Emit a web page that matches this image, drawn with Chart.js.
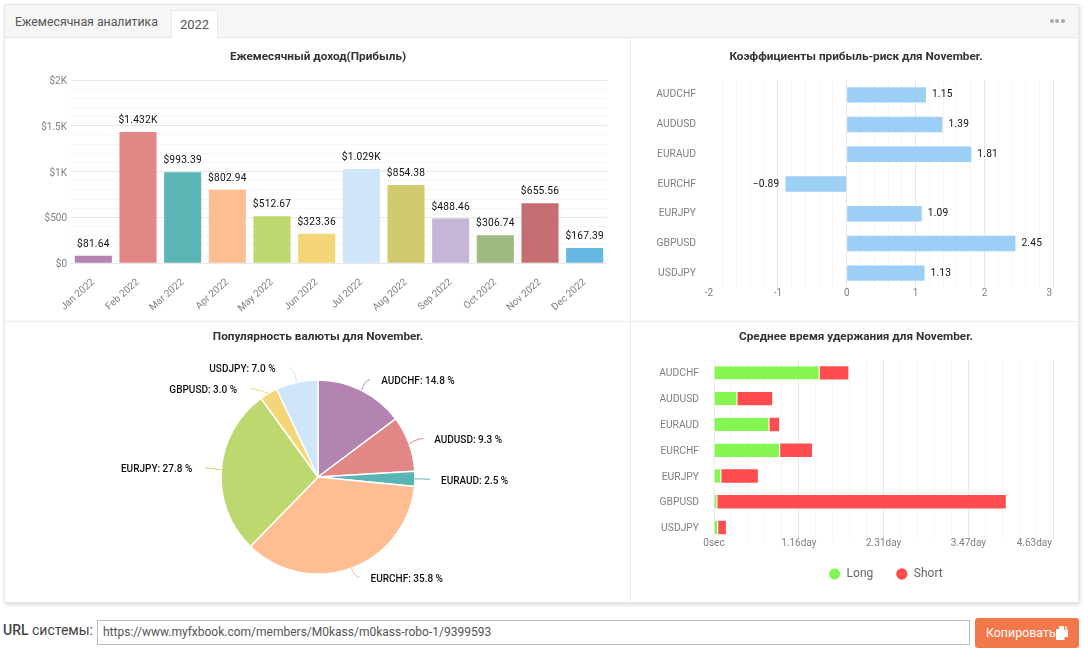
<!DOCTYPE html>
<html lang="ru">
<head>
<meta charset="utf-8">
<title>Ежемесячная аналитика</title>
<script src="https://cdn.jsdelivr.net/npm/chart.js@4"></script>
<style>
  html, body { margin: 0; padding: 0; background: #fff; width: 1088px; height: 658px; overflow: hidden; font-family: Roboto, sans-serif; }
  .panel { position: absolute; left: 4px; top: 4px; width: 1073px; height: 597px; background: #fff; border: 1px solid #e7e7e7; box-shadow: 1px 2px 4px rgba(0,0,0,.14); }
  .head { position: absolute; left: 0; top: 0; width: 1073px; height: 32px; background: #f6f6f6; border-bottom: 1px solid #e7e7e7; }
  .head .name { position: absolute; left: 10px; top: 10px; font-size: 12.3px; color: #555; }
  .head .tab { position: absolute; left: 166px; top: 5px; width: 47px; height: 28px; background: #fff; border: 1px solid #e9e9e9; border-bottom: 0; box-sizing: border-box; text-align: center; font-size: 13px; line-height: 27px; color: #555; }
  .head .dots { position: absolute; left: 1045px; top: 13px; width: 16px; height: 6px; }
  .head .dots i { float: left; width: 4px; height: 4px; margin: 1px 1.3px 0 0; border-radius: 50%; background: #aaa; }
  .vline { position: absolute; left: 630px; top: 37px; width: 1px; height: 564px; background: #ececec; }
  .hline { position: absolute; left: 5px; top: 321px; width: 1072px; height: 1px; background: #ececec; }
  canvas { position: absolute; }
  .url-label { position: absolute; left: 3px; top: 622px; font-size: 14px; color: #444; }
  .url-label b { font-weight: 500; }
  .url-box { position: absolute; left: 97px; top: 620px; width: 873px; height: 25px; box-sizing: border-box; border: 1px solid #bbb; padding: 0 5px; font-size: 12px; line-height: 23px; color: #555; }
  .copy { position: absolute; left: 975px; top: 618px; width: 104px; height: 30px; background: #f2784b; border-radius: 3px; color: #fff; font-size: 12.4px; line-height: 30px; padding-left: 11px; box-sizing: border-box; }
  .copy svg { position: absolute; left: 81px; top: 8px; }
</style>
</head>
<body>
<div class="panel">
  <div class="head">
    <div class="name">Ежемесячная аналитика</div>
    <div class="tab">2022</div>
    <div class="dots"><i></i><i></i><i></i></div>
  </div>
</div>
<div class="vline"></div>
<div class="hline"></div>
<canvas id="incomeChart" style="left:4px;top:37px" width="628" height="284"></canvas>
<canvas id="ratioChart" style="left:631px;top:37px" width="450" height="284"></canvas>
<canvas id="shareChart" style="left:4px;top:322px" width="628" height="280"></canvas>
<canvas id="holdChart" style="left:631px;top:322px" width="450" height="280"></canvas>
<div class="url-label"><b>URL</b> системы:</div>
<div class="url-box">https://www.myfxbook.com/members/M0kass/m0kass-robo-1/9399593</div>
<div class="copy">Копировать
  <svg width="12" height="14" viewBox="0 0 12 14"><path fill="#fff" d="M3 0h5v3.5h4V11H8.5v3H0V3h3zM9 0l3 2.6H9z"/></svg>
</div>

<script>
const months = ["Jan 2022", "Feb 2022", "Mar 2022", "Apr 2022", "May 2022", "Jun 2022", "Jul 2022", "Aug 2022", "Sep 2022", "Oct 2022", "Nov 2022", "Dec 2022"];
const monthlyIncome = [81.64, 1432, 993.39, 802.94, 512.67, 323.36, 1029, 854.38, 488.46, 306.74, 655.56, 167.39];
const monthColors = ["#b384b2", "#e28686", "#5cb5b5", "#ffbe92", "#bdd86e", "#f4d577", "#cfe6fa", "#d0cb6e", "#c5b5d8", "#9fb983", "#c66f72", "#66b8e2"];

const pairs = ["AUDCHF", "AUDUSD", "EURAUD", "EURCHF", "EURJPY", "GBPUSD", "USDJPY"];
const profitRisk = [1.15, 1.39, 1.81, -0.89, 1.09, 2.45, 1.13];
const pairShare = [14.8, 9.3, 2.5, 35.8, 27.8, 3.0, 7.0];
// average holding time, seconds
const holdLong = [124500, 27600, 65400, 78000, 8700, 4000, 5000];
const holdShort = [33900, 41000, 11400, 37500, 43000, 340000, 9000];

const titleFont = { family: "Roboto", size: 11.75, weight: "bold" };
const tickFont = { family: "Roboto", size: 10 };
const catFont = { family: "Roboto", size: 10.3 };
const tickColor = "#808080";
const gridMajor = "#e8e8e8";
const gridMinor = "#f6f6f6";

Chart.defaults.animation = false;
Chart.defaults.responsive = false;
Chart.defaults.plugins.legend.display = false;
Chart.defaults.plugins.tooltip.enabled = false;

function chartTitle(text, top, bottom) {
  return { display: true, text: text, color: "#333", font: titleFont, padding: { top: top, bottom: bottom } };
}

function isMultiple(value, step) {
  return Math.abs(value / step - Math.round(value / step)) < 1e-6;
}

function formatMoney(value) {
  if (value >= 1000) return "$" + value / 1000 + "K";
  return "$" + value;
}

// titles stay centred on the whole canvas, whatever padding the plot has
const centerTitle = {
  id: "centerTitle",
  afterLayout(chart) {
    const block = chart.titleBlock;
    block.left = 0;
    block.right = chart.width;
    block.width = chart.width;
  }
};
Chart.register(centerTitle);

// value text next to each bar of the first dataset
const barValueLabels = {
  id: "barValueLabels",
  afterDatasetsDraw(chart, args, opts) {
    const ctx = chart.ctx;
    ctx.save();
    ctx.font = "10.2px Roboto";
    ctx.fillStyle = "#111";
    ctx.letterSpacing = "0.2px";
    ctx.textBaseline = "middle";
    chart.getDatasetMeta(0).data.forEach((bar, i) => {
      const value = chart.data.datasets[0].data[i];
      const text = opts.format(value);
      if (chart.options.indexAxis === "y") {
        ctx.textAlign = value < 0 ? "right" : "left";
        ctx.fillText(text, bar.x + (value < 0 ? -6 : 6), bar.y);
      } else {
        ctx.textAlign = "center";
        ctx.fillText(text, bar.x, bar.y - 11.5);
      }
    });
    ctx.restore();
  }
};

// keeps the last x tick label inside the panel; the scale box is also stretched
// so labels are not clipped when the legend sits right under a short axis
const axisTweaks = {
  id: "axisTweaks",
  beforeDraw(chart, args, opts) {
    const scale = chart.scales.x;
    scale.top -= opts.extraTop || 0;
    scale.bottom += opts.extraBottom || 0;
    const items = scale.getLabelItems();
    const last = items[items.length - 1];
    if (last) last.options.translation[0] -= opts.dx;
    if (opts.legendDx) chart.legend.left += opts.legendDx;
  }
};

// pie callouts: curved connector from the slice edge, then the text
const calloutShift = {
  AUDCHF: [2, 3],
  EURCHF: [3, -5],
  EURJPY: [-1, -1],
  GBPUSD: [-11, 8],
  USDJPY: [-5, 0]
};
const pieCallouts = {
  id: "pieCallouts",
  afterDatasetsDraw(chart) {
    const ctx = chart.ctx;
    ctx.save();
    ctx.font = "500 10px Roboto";
    ctx.textBaseline = "middle";
    chart.getDatasetMeta(0).data.forEach((arc, i) => {
      const name = chart.data.labels[i];
      const mid = (arc.startAngle + arc.endAngle) / 2;
      const shift = calloutShift[name] || [0, 0];
      const sx = arc.x + Math.cos(mid) * arc.outerRadius;
      const sy = arc.y + Math.sin(mid) * arc.outerRadius;
      const ex = arc.x + Math.cos(mid) * (arc.outerRadius + 15) + shift[0];
      const ey = arc.y + Math.sin(mid) * (arc.outerRadius + 15) + shift[1];
      const right = ex > arc.x;
      ctx.beginPath();
      ctx.moveTo(sx, sy);
      ctx.quadraticCurveTo(ex + (right ? -5 : 5), ey, ex, ey);
      ctx.strokeStyle = arc.options.backgroundColor;
      ctx.lineWidth = 1;
      ctx.stroke();
      ctx.fillStyle = "#111";
      ctx.textAlign = right ? "left" : "right";
      const text = name + ": " + chart.data.datasets[0].data[i].toFixed(1) + " %";
      ctx.fillText(text, ex + (right ? 11 : -13), ey + 2);
    });
    ctx.restore();
  }
};

new Chart(document.getElementById("incomeChart"), {
  type: "bar",
  data: {
    labels: months,
    datasets: [{ data: monthlyIncome, backgroundColor: monthColors, barPercentage: 0.83, categoryPercentage: 1 }]
  },
  plugins: [barValueLabels],
  options: {
    layout: { padding: { right: 25 } },
    plugins: {
      title: chartTitle("Ежемесячный доход(Прибыль)", 13, 15.9),
      barValueLabels: { format: formatMoney }
    },
    scales: {
      x: {
        border: { display: false },
        grid: { display: false },
        afterFit(scale) { scale.height = 57.7; },
        ticks: { color: tickColor, font: tickFont, minRotation: 42, maxRotation: 42, padding: 5, autoSkip: false }
      },
      y: {
        min: 0,
        max: 2000,
        border: { display: false },
        afterFit(scale) { scale.width = 67; },
        grid: {
          drawTicks: false,
          color: (c) => (isMultiple(c.tick.value, 500) ? gridMajor : gridMinor)
        },
        ticks: {
          stepSize: 100,
          autoSkip: false,
          color: tickColor,
          font: tickFont,
          padding: 4,
          labelOffset: 1.5,
          callback: (value) => (isMultiple(value, 500) ? formatMoney(value) : "")
        }
      }
    }
  }
});

new Chart(document.getElementById("ratioChart"), {
  type: "bar",
  data: {
    labels: pairs,
    datasets: [{ data: profitRisk, backgroundColor: "#9ccff6", barPercentage: 0.52, categoryPercentage: 1 }]
  },
  plugins: [barValueLabels, axisTweaks],
  options: {
    indexAxis: "y",
    layout: { padding: { right: 27.7 } },
    plugins: {
      title: chartTitle("Коэффициенты прибыль-риск для November.", 13, 15.9),
      barValueLabels: { format: (v) => (v < 0 ? "−" + Math.abs(v) : String(v)) },
      axisTweaks: { dx: 4 }
    },
    scales: {
      x: {
        min: -2,
        max: 3,
        border: { display: false },
        afterFit(scale) { scale.height = 33; },
        grid: {
          drawTicks: false,
          color: (c) => {
            if (c.tick.value === -2) return "rgba(0,0,0,0)";
            return isMultiple(c.tick.value, 1) ? gridMajor : gridMinor;
          }
        },
        ticks: {
          stepSize: 0.2,
          autoSkip: false,
          maxRotation: 0,
          color: tickColor,
          font: tickFont,
          padding: -1,
          callback: (value) => (isMultiple(value, 1) ? String(Math.round(value)) : "")
        }
      },
      y: {
        border: { display: false },
        grid: { display: false, drawTicks: false },
        afterFit(scale) { scale.width = 78; },
        ticks: { color: tickColor, font: catFont, padding: 13, autoSkip: false }
      }
    }
  }
});

new Chart(document.getElementById("shareChart"), {
  type: "pie",
  data: {
    labels: pairs,
    datasets: [{ data: pairShare, backgroundColor: monthColors.slice(0, 7), borderColor: "#fff", borderWidth: 1.5, radius: 97 }]
  },
  plugins: [pieCallouts],
  options: {
    layout: { padding: { bottom: 28 } },
    plugins: { title: chartTitle("Популярность валюты для November.", 8, 35.9) }
  }
});

new Chart(document.getElementById("holdChart"), {
  type: "bar",
  data: {
    labels: pairs,
    datasets: [
      { label: "Long", data: holdLong, backgroundColor: "#85f651", borderColor: "#fff", borderWidth: { right: 1 }, barPercentage: 0.52, categoryPercentage: 1 },
      { label: "Short", data: holdShort, backgroundColor: "#ff4c4f", barPercentage: 0.52, categoryPercentage: 1 }
    ]
  },
  plugins: [axisTweaks],
  options: {
    indexAxis: "y",
    layout: { padding: { right: 27.7, bottom: 12 } },
    plugins: {
      title: chartTitle("Среднее время удержания для November.", 8, 15.9),
      axisTweaks: { dx: 19, extraTop: 3, extraBottom: 16, legendDx: 4 },
      legend: {
        display: true,
        position: "bottom",
        fullSize: false,
        labels: {
          usePointStyle: true,
          pointStyle: "circle",
          boxWidth: 12,
          boxHeight: 8,
          padding: 22.6,
          color: "#666",
          font: { family: "Roboto", size: 12 }
        }
      }
    },
    scales: {
      x: {
        stacked: true,
        min: 0,
        max: 400000,
        border: { display: false },
        afterFit(scale) { scale.height = 5; },
        grid: {
          drawTicks: false,
          color: (c) => (isMultiple(c.tick.value, 100000) ? gridMajor : gridMinor)
        },
        ticks: {
          stepSize: 20000,
          autoSkip: false,
          maxRotation: 0,
          color: tickColor,
          font: tickFont,
          padding: 0,
          callback: (value) => {
            if (value === 0) return "0sec";
            return isMultiple(value, 100000) ? (value / 86400).toFixed(2) + "day" : "";
          }
        }
      },
      y: {
        stacked: true,
        border: { display: false },
        grid: { display: false, drawTicks: false },
        afterFit(scale) { scale.width = 83; },
        ticks: { color: tickColor, font: catFont, padding: 15, labelOffset: 1, autoSkip: false }
      }
    }
  }
});
</script>
</body>
</html>
